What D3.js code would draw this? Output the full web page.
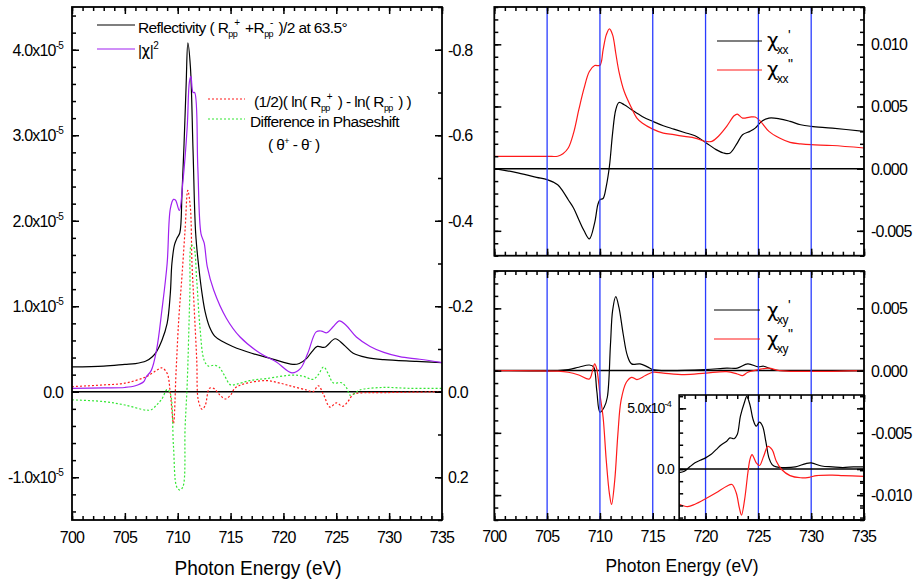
<!DOCTYPE html>
<html>
<head>
<meta charset="utf-8">
<script src="https://cdn.jsdelivr.net/npm/d3@7"></script>
<style>
  body { margin: 0; background: #fff; }
  svg { display: block; font-family: "Liberation Sans", Arial, sans-serif; }
  .greek { font-family: "DejaVu Sans", sans-serif; }
</style>
</head>
<body>
<svg id="chart" width="913" height="581"></svg>
<script>
// ---------- shared energy axis ----------
const energyDomain = [700, 735];
const energyTicks = [700, 705, 710, 715, 720, 725, 730, 735];
const gridEnergies = [705, 710, 715, 720, 725, 730];

// ---------- left panel: reflectivity and |chi|^2 (units of 1e-5) ----------
const leftDomain = [-1.5, 4.5];
const leftTicks = [-1, 0, 1, 2, 3, 4];
const leftTickLabels = ["-1.0x10", "0.0", "1.0x10", "2.0x10", "3.0x10", "4.0x10"];
const leftTickExp = ["-5", "", "-5", "-5", "-5", "-5"];

// secondary (reversed) axis of the left panel: asymmetry / phase difference
const phaseDomain = [-0.9, 0.3];
const phaseTicks = [-0.8, -0.6, -0.4, -0.2, 0.0, 0.2];
const phaseTickLabels = ["-0.8", "-0.6", "-0.4", "-0.2", "0.0", "0.2"];

const reflectivity = [
  [700, 0.29], [703, 0.30], [705, 0.32], [706, 0.33], [707, 0.36], [707.6, 0.41],
  [708, 0.47], [708.5, 0.60], [709, 0.80], [709.3, 1.15], [709.45, 1.50], [709.7, 1.72],
  [709.95, 1.80], [710.2, 1.86], [710.4, 2.3], [710.6, 2.9], [710.8, 3.6], [710.96, 4.08],
  [711.2, 3.8], [711.45, 2.82], [711.7, 1.85], [712.0, 1.45], [712.3, 1.15], [712.6, 0.93],
  [713.0, 0.76], [713.5, 0.65], [714.2, 0.59], [715.2, 0.53], [717, 0.45], [718.9, 0.385],
  [720.9, 0.32], [721.5, 0.33], [722.2, 0.39], [722.7, 0.47], [723.2, 0.53], [723.9, 0.52],
  [724.9, 0.62], [725.7, 0.55], [726.6, 0.45], [727.9, 0.40], [729.5, 0.375], [732.6, 0.355],
  [735, 0.34]
];

const chiSquared = [
  [700, 0.04], [703, 0.045], [705, 0.05], [706, 0.07], [706.8, 0.12], [707, 0.17],
  [707.5, 0.25], [708, 0.49], [708.5, 0.95], [709, 1.5], [709.3, 2.14], [709.6, 2.25],
  [709.8, 2.24], [710.15, 2.12], [710.5, 2.47], [710.9, 3.1], [711.1, 3.62], [711.25, 3.69],
  [711.45, 3.5], [711.6, 3.5], [711.9, 2.63], [712.2, 1.85], [712.5, 1.74], [712.8, 1.46],
  [713.4, 1.19], [714.6, 0.86], [715.9, 0.64], [717.8, 0.45], [719.3, 0.35], [720.8, 0.22],
  [721.6, 0.27], [722.3, 0.45], [723.1, 0.70], [723.6, 0.71], [724.1, 0.69], [724.7, 0.76],
  [725.3, 0.83], [725.9, 0.78], [726.9, 0.64], [728.2, 0.53], [729.5, 0.46], [731, 0.41],
  [732.9, 0.38], [735, 0.34]
];

const logAsymmetry = [
  [700, -0.012], [703, -0.016], [705, -0.02], [707, -0.035], [708, -0.05], [708.5, -0.056],
  [709, -0.043], [709.3, 0.004], [709.6, 0.074], [709.85, -0.05], [710.1, -0.17], [710.4, -0.27],
  [710.7, -0.38], [710.95, -0.471], [711.2, -0.43], [711.35, -0.3], [711.55, -0.2], [711.8, -0.074],
  [711.95, 0.02], [712.3, 0.041], [712.6, 0.032], [713, -0.008], [713.4, -0.008], [714, 0.008],
  [714.5, 0.017], [715, 0.008], [715.4, -0.008], [716.2, -0.018], [718.4, -0.026], [719.7, -0.02],
  [720.9, -0.012], [722.2, -0.004], [722.8, 0], [723.3, -0.014], [723.8, 0.007], [724.4, 0.036],
  [725, 0.026], [725.6, 0.034], [726.1, 0.023], [726.6, 0.006], [727.2, 0.003], [729.5, 0.002],
  [735, 0]
];

const phaseDifference = [
  [700, 0.019], [703, 0.023], [705, 0.031], [707, 0.043], [707.5, 0.042], [708, 0.031],
  [708.5, 0.017], [709, -0.005], [709.3, 0.004], [709.6, 0.128], [709.9, 0.222], [710.2, 0.23],
  [710.5, 0.222], [710.7, 0.082], [710.9, -0.02], [711.15, -0.23], [711.3, -0.343], [711.5, -0.34],
  [711.8, -0.26], [712.1, -0.152], [712.5, -0.074], [712.9, -0.06], [713.4, -0.062], [713.9, -0.058],
  [714.4, -0.039], [715, -0.016], [715.6, -0.018], [716.8, -0.026], [718.4, -0.031], [720.9, -0.039],
  [721.9, -0.036], [722.8, -0.029], [723.3, -0.04], [723.8, -0.058], [724.3, -0.039], [724.7, -0.021],
  [725.5, -0.021], [726, -0.008], [726.3, 0.008], [726.8, 0.003], [727.2, -0.004], [729.4, -0.01],
  [732, -0.008], [735, -0.008]
];

// ---------- right top panel: chi_xx ----------
const xxDomain = [-0.007, 0.013];
const xxTicks = [-0.005, 0, 0.005, 0.010];
const xxTickLabels = ["-0.005", "0.000", "0.005", "0.010"];

const chiXXre = [
  [700, 0], [702, -0.0003], [704, -0.0007], [705, -0.00088], [706, -0.0013], [706.5, -0.00182],
  [707, -0.0025], [707.5, -0.00316], [708, -0.0041], [708.5, -0.0050], [709, -0.00565], [709.5, -0.00436],
  [709.8, -0.0029], [710, -0.0025], [710.3, -0.0024], [710.6, -0.00142], [710.9, 0.00019], [711.2, 0.00286],
  [711.5, 0.00474], [711.8, 0.00532], [712.3, 0.00514], [713, 0.00474], [714, 0.0042], [715, 0.0038],
  [716, 0.00345], [717, 0.00318], [718, 0.00291], [719, 0.00265], [720, 0.00211], [721, 0.00153],
  [721.7, 0.00126], [722.3, 0.00124], [723, 0.00206], [723.5, 0.00273], [724.2, 0.0030], [724.7, 0.00326],
  [725.3, 0.0038], [726, 0.00407], [727, 0.00401], [728, 0.0038], [729, 0.00353], [730, 0.0034],
  [732, 0.00326], [735, 0.0030]
];

const chiXXim = [
  [700, 0.00099], [705, 0.00099], [706, 0.0010], [706.5, 0.0012], [707, 0.00166], [707.5, 0.00286],
  [708, 0.00474], [708.5, 0.00648], [709, 0.00781], [709.5, 0.00829], [710, 0.00831], [710.3, 0.00955],
  [710.6, 0.01076], [710.9, 0.01124], [711.2, 0.01076], [711.5, 0.00928], [711.8, 0.00781], [712.3, 0.0062],
  [713, 0.00487], [713.5, 0.00407], [714, 0.00367], [715, 0.00318], [716, 0.00286], [717, 0.00273],
  [718, 0.00259], [719, 0.00246], [720, 0.00219], [720.6, 0.00219], [721.2, 0.00259], [722, 0.0034],
  [722.7, 0.00425], [723, 0.00439], [723.5, 0.00407], [724.2, 0.00415], [724.7, 0.00415], [725.2, 0.0038],
  [726, 0.0030], [727, 0.00246], [728, 0.00211], [729, 0.0020], [730, 0.00193], [732, 0.00186],
  [735, 0.00166]
];

// ---------- right bottom panel: chi_xy ----------
const xyDomain = [-0.012, 0.008];
const xyTicks = [-0.010, -0.005, 0, 0.005];
const xyTickLabels = ["-0.010", "-0.005", "0.000", "0.005"];

const chiXYre = [
  [700, 0], [706, 0], [707, 0.00008], [708, 0.00027], [709, 0.00045], [709.4, 0.0003],
  [709.7, -0.0016], [710, -0.00334], [710.4, -0.00294], [710.7, -0.00214], [711, 0.00214], [711.2, 0.00482],
  [711.5, 0.00594], [711.8, 0.00508], [712.2, 0.00294], [712.6, 0.0012], [713, 0.00054], [713.8, 0.00054],
  [714.5, 0.0003], [715, 0.00008], [716, 0], [720, 0.00008], [722, 0.0002], [723, 0.0002],
  [724, 0.00054], [725, 0.0003], [725.5, 0.00035], [726.5, 0.00005], [728, 0], [735, 0]
];

const chiXYim = [
  [700, 0], [706, -0.00005], [707, -0.00013], [708, -0.00035], [709, -0.00067], [709.3, 0],
  [709.5, 0.00054], [709.7, 0.00013], [710, -0.0019], [710.3, -0.00375], [710.6, -0.00722], [710.9, -0.0099],
  [711.1, -0.01075], [711.4, -0.00883], [711.7, -0.0051], [712, -0.0024], [712.5, -0.00094], [713, -0.00054],
  [713.5, -0.00072], [714.3, -0.0004], [715, -0.00013], [716, -0.0002], [718, -0.00032], [720, -0.0002],
  [722, -0.00008], [723, -0.00027], [723.5, -0.0004], [724, -0.00013], [725, 0.00008], [726, 0.0002],
  [727, 0], [735, 0]
];

// ---------- inset: L2 edge of chi_xy ----------
const insetEnergyDomain = [717.5, 735];
const insetDomain = [-4.2e-4, 6.1e-4];
const insetTicks = [0, 5e-4];
const insetTickLabels = ["0.0", "5.0x10"];
const insetTickExp = ["", "-4"];

const insetRe = [
  [717.5, -3e-5], [718, -1.8e-5], [718.5, 1.8e-5], [719, 5.1e-5], [719.5, 7.2e-5], [720, 9.2e-5],
  [720.5, 1.19e-4], [721, 1.6e-4], [721.5, 2.0e-4], [722, 2.29e-4], [722.3, 2.57e-4], [722.7, 2.5e-4],
  [723, 2.84e-4], [723.3, 4.35e-4], [723.7, 5.54e-4], [723.9, 5.99e-4], [724.2, 5.3e-4], [724.5, 4.08e-4],
  [724.8, 3.53e-4], [725.1, 3.86e-4], [725.4, 3.53e-4], [725.7, 2.29e-4], [726, 9.2e-5], [726.3, 3.7e-5],
  [726.7, 1.8e-5], [727.5, 1.2e-5], [728.5, 1.8e-5], [729.5, 4.5e-5], [730, 5e-5], [731, 2.5e-5],
  [732, 1.8e-5], [733, 1.2e-5], [734, 1.8e-5], [735, 1.8e-5]
];

const insetIm = [
  [717.5, -2.9e-4], [718.3, -3.1e-4], [719, -2.9e-4], [720, -2.45e-4], [721, -1.96e-4], [722, -1.42e-4],
  [722.5, -1.28e-4], [722.9, -1.96e-4], [723.2, -3.2e-4], [723.4, -3.8e-4], [723.7, -2.5e-4], [724, -3.5e-5],
  [724.2, 7.8e-5], [724.4, 1.19e-4], [724.8, 5.1e-5], [725.1, 2.9e-5], [725.5, 1.05e-4], [725.9, 1.87e-4],
  [726.3, 1.6e-4], [726.7, 6.4e-5], [727.2, -4e-6], [728, -5.4e-5], [729, -7.2e-5], [729.8, -6.8e-5],
  [730.5, -5.4e-5], [732, -5e-5], [733, -5.4e-5], [735, -6e-5]
];

// ---------- colours ----------
const C = {
  black: "#000000",
  purple: "#a020f0",
  red: "#ff1a1a",
  green: "#33e633",
  blue: "#2a3cff"
};

const svg = d3.select("#chart");

// ---------- layout ----------
const L = { x0: 72, x1: 442, y0: 7, y1: 520 };
const RT = { x0: 494.3, x1: 864, y0: 7, y1: 255.7 };
const RB = { x0: 494.3, x1: 864, y0: 271, y1: 520 };

// ---------- helpers ----------
function inwardTicks(g, axisFn, scale, values, len, tx, ty) {
  const a = axisFn(scale).tickValues(values).tickSize(-len).tickFormat("");
  const s = g.append("g").attr("transform", `translate(${tx},${ty})`).call(a);
  s.select(".domain").remove();
  s.selectAll("line").attr("stroke", "#000").attr("stroke-width", 1.5);
}

function seq(a, b, step) {
  const out = [];
  const n = Math.round((b - a) / step);
  for (let i = 0; i <= n; i++) out.push(+(a + i * step).toFixed(6));
  return out;
}

function frame(g, p) {
  g.append("rect")
    .attr("x", p.x0).attr("y", p.y0)
    .attr("width", p.x1 - p.x0).attr("height", p.y1 - p.y0)
    .attr("fill", "none").attr("stroke", "#000").attr("stroke-width", 1.8);
}

function clipFor(id, p) {
  svg.append("clipPath").attr("id", id).append("rect")
    .attr("x", p.x0).attr("y", p.y0).attr("width", p.x1 - p.x0).attr("height", p.y1 - p.y0);
  return `url(#${id})`;
}

// text made of segments with baseline shifts: [text, size, shift, dx, cls]
function richText(g, x, y, segs, opts = {}) {
  const t = g.append("text").attr("x", x).attr("y", y)
    .attr("fill", "#000")
    .attr("letter-spacing", opts.ls ?? -0.5)
    .attr("text-anchor", opts.anchor || "start");
  let prev = 0;
  segs.forEach(([s, size, shift, dx, cls]) => {
    const ts = t.append("tspan").text(s).attr("font-size", size).attr("dy", shift - prev);
    if (dx) ts.attr("dx", dx);
    if (cls) ts.attr("class", cls);
    prev = shift;
  });
  return t;
}

function drawLine(g, data, x, y, color, opts = {}) {
  const line = d3.line().x(d => x(d[0])).y(d => y(d[1])).curve(d3.curveCatmullRom.alpha(0.5));
  g.append("path").datum(data)
    .attr("d", line)
    .attr("fill", "none")
    .attr("stroke", color)
    .attr("stroke-width", opts.width || 1.2)
    .attr("stroke-dasharray", opts.dash || null)
    .attr("stroke-linejoin", "round");
}

// ================= LEFT PANEL =================
const xL = d3.scaleLinear().domain(energyDomain).range([L.x0, L.x1]);
const yL = d3.scaleLinear().domain(leftDomain).range([L.y1, L.y0]);
const yP = d3.scaleLinear().domain(phaseDomain).range([L.y0, L.y1]);

const gL = svg.append("g");
const plotL = gL.append("g").attr("clip-path", clipFor("clipL", L));

// zero line
plotL.append("line")
  .attr("x1", L.x0).attr("x2", L.x1)
  .attr("y1", yL(0)).attr("y2", yL(0))
  .attr("stroke", "#000").attr("stroke-width", 1.5);

drawLine(plotL, logAsymmetry, xL, yP, C.red, { dash: "2,2", width: 1.2 });
drawLine(plotL, phaseDifference, xL, yP, C.green, { dash: "2,2", width: 1.2 });
drawLine(plotL, reflectivity, xL, yL, C.black, { width: 1.2 });
drawLine(plotL, chiSquared, xL, yL, C.purple, { width: 1.2 });

// ticks (all inward)
inwardTicks(gL, d3.axisBottom, xL, seq(700, 735, 1), 4, 0, L.y1);
inwardTicks(gL, d3.axisBottom, xL, energyTicks, 7, 0, L.y1);
inwardTicks(gL, d3.axisTop, xL, seq(700, 735, 1), 4, 0, L.y0);
inwardTicks(gL, d3.axisTop, xL, energyTicks, 7, 0, L.y0);
inwardTicks(gL, d3.axisLeft, yL, seq(-1.4, 4.4, 0.2), 4, L.x0, 0);
inwardTicks(gL, d3.axisLeft, yL, leftTicks, 7, L.x0, 0);
inwardTicks(gL, d3.axisRight, yP, seq(-0.9, 0.3, 0.1), 4, L.x1, 0);
inwardTicks(gL, d3.axisRight, yP, phaseTicks, 7, L.x1, 0);
frame(gL, L);

// tick labels
energyTicks.forEach(v => {
  gL.append("text").attr("x", xL(v)).attr("y", 543)
    .attr("text-anchor", "middle").attr("font-size", 16).attr("letter-spacing", -0.8)
    .text(v);
});
leftTicks.forEach((v, i) => {
  const segs = [[leftTickLabels[i], 16, 0]];
  if (leftTickExp[i]) segs.push([leftTickExp[i], 10, -7]);
  richText(gL, 63, yL(v) + 6, segs, { anchor: "end", ls: -0.8 });
});
phaseTicks.forEach((v, i) => {
  gL.append("text").attr("x", 448).attr("y", yP(v) + 6)
    .attr("font-size", 16).attr("letter-spacing", -0.8)
    .text(phaseTickLabels[i]);
});
gL.append("text").attr("x", 258).attr("y", 575)
  .attr("text-anchor", "middle").attr("font-size", 20)
  .attr("textLength", 167).attr("lengthAdjust", "spacingAndGlyphs")
  .text("Photon Energy (eV)");

// legend
const legL = gL.append("g");
legL.append("line").attr("x1", 97).attr("x2", 135).attr("y1", 25).attr("y2", 25)
  .attr("stroke", C.black).attr("stroke-width", 1.2);
legL.append("line").attr("x1", 97).attr("x2", 135).attr("y1", 49).attr("y2", 49)
  .attr("stroke", C.purple).attr("stroke-width", 1.2);
legL.append("line").attr("x1", 208).attr("x2", 245).attr("y1", 99).attr("y2", 99)
  .attr("stroke", C.red).attr("stroke-width", 1.2).attr("stroke-dasharray", "2,2");
legL.append("line").attr("x1", 208).attr("x2", 245).attr("y1", 119).attr("y2", 119)
  .attr("stroke", C.green).attr("stroke-width", 1.2).attr("stroke-dasharray", "2,2");

richText(legL, 138, 33, [
  ["Reflectivity ( R", 15.5, 0], ["pp", 9, 4], ["+", 10, -7, -3],
  [" +R", 15.5, 0, 2], ["pp", 9, 4], ["-", 10, -7, -3],
  [" )/2 at 63.5°", 15.5, 0, 2]
], { ls: -0.6 });
richText(legL, 138, 56, [["|", 15.5, 0], ["χ", 15, 0, 0, "greek"], ["|", 15.5, 0], ["2", 10, -7]]);
richText(legL, 254, 107, [
  ["(1/2)( ln( R", 15.5, 0], ["pp", 9, 4], ["+", 10, -7, -3],
  [" ) - ln( R", 15.5, 0, 2], ["pp", 9, 4], ["-", 10, -7, -3],
  [" ) )", 15.5, 0, 2]
], { ls: -0.6 });
richText(legL, 250, 127, [["Difference in Phaseshift", 15.5, 0]], { ls: -0.6 });
richText(legL, 268, 150, [
  ["( θ", 15.5, 0], ["+", 9, -6], [" - θ", 15.5, 0], ["-", 9, -6], [" )", 15.5, 0]
], { ls: -0.6 });

// ================= RIGHT PANELS =================
const xR = d3.scaleLinear().domain(energyDomain).range([RT.x0, RT.x1]);

function rightPanel(p, yDomain, yTicks, yLabels, id) {
  const y = d3.scaleLinear().domain(yDomain).range([p.y1, p.y0]);
  const g = svg.append("g");
  const plot = g.append("g").attr("clip-path", clipFor(id, p));
  plot.append("line")
    .attr("x1", p.x0).attr("x2", p.x1).attr("y1", y(0)).attr("y2", y(0))
    .attr("stroke", "#000").attr("stroke-width", 1.5);
  const minor = seq(Math.ceil(yDomain[0] * 1000) / 1000, Math.floor(yDomain[1] * 1000) / 1000, 0.001);
  inwardTicks(g, d3.axisBottom, xR, seq(700, 735, 1), 4, 0, p.y1);
  inwardTicks(g, d3.axisBottom, xR, energyTicks, 7, 0, p.y1);
  inwardTicks(g, d3.axisTop, xR, seq(700, 735, 1), 4, 0, p.y0);
  inwardTicks(g, d3.axisTop, xR, energyTicks, 7, 0, p.y0);
  inwardTicks(g, d3.axisLeft, y, minor, 4, p.x0, 0);
  inwardTicks(g, d3.axisLeft, y, yTicks, 7, p.x0, 0);
  inwardTicks(g, d3.axisRight, y, minor, 4, p.x1, 0);
  inwardTicks(g, d3.axisRight, y, yTicks, 7, p.x1, 0);
  yTicks.forEach((v, i) => {
    g.append("text").attr("x", 871).attr("y", y(v) + 6)
      .attr("font-size", 16).attr("letter-spacing", -0.8)
      .text(yLabels[i]);
  });
  return { g, plot, y };
}

// ---- top: chi_xx ----
const panelXX = rightPanel(RT, xxDomain, xxTicks, xxTickLabels, "clipRT");
drawLine(panelXX.plot, chiXXre, xR, panelXX.y, C.black);
drawLine(panelXX.plot, chiXXim, xR, panelXX.y, C.red);
gridEnergies.forEach(e => {
  panelXX.plot.append("line").attr("x1", xR(e)).attr("x2", xR(e))
    .attr("y1", RT.y0).attr("y2", RT.y1)
    .attr("stroke", C.blue).attr("stroke-width", 1.3);
});
frame(panelXX.g, RT);

// legend chi_xx
panelXX.g.append("line").attr("x1", 717).attr("x2", 762).attr("y1", 41).attr("y2", 41)
  .attr("stroke", C.black).attr("stroke-width", 1.2);
panelXX.g.append("line").attr("x1", 717).attr("x2", 762).attr("y1", 70).attr("y2", 70)
  .attr("stroke", C.red).attr("stroke-width", 1.2);
richText(panelXX.g, 767, 47, [["χ", 20, 0, 0, "greek"], ["xx", 12, 7, -1], ["'", 14, -7, 0]], { ls: -0.5 });
richText(panelXX.g, 767, 76, [["χ", 20, 0, 0, "greek"], ["xx", 12, 7, -1], ["\"", 14, -7, 0]], { ls: -0.5 });

// ---- bottom: chi_xy ----
const panelXY = rightPanel(RB, xyDomain, xyTicks, xyTickLabels, "clipRB");
drawLine(panelXY.plot, chiXYre, xR, panelXY.y, C.black);
drawLine(panelXY.plot, chiXYim, xR, panelXY.y, C.red);

// inset
const I = { x0: xR(insetEnergyDomain[0]), x1: RB.x1, y0: 395, y1: RB.y1 };
const xI = d3.scaleLinear().domain(insetEnergyDomain).range([I.x0, I.x1]);
const yI = d3.scaleLinear().domain(insetDomain).range([I.y1, I.y0]);
panelXY.plot.append("rect").attr("x", I.x0).attr("y", I.y0)
  .attr("width", I.x1 - I.x0).attr("height", I.y1 - I.y0).attr("fill", "#fff");
const insetPlot = panelXY.g.append("g").attr("clip-path", clipFor("clipI", I));
insetPlot.append("line").attr("x1", I.x0).attr("x2", I.x1).attr("y1", yI(0)).attr("y2", yI(0))
  .attr("stroke", "#000").attr("stroke-width", 1.5);
drawLine(insetPlot, insetRe, xI, yI, C.black);
drawLine(insetPlot, insetIm, xI, yI, C.red);
inwardTicks(panelXY.g, d3.axisTop, xI, seq(718, 735, 1), 4, 0, I.y0);
inwardTicks(panelXY.g, d3.axisTop, xI, [720, 725, 730, 735], 7, 0, I.y0);
inwardTicks(panelXY.g, d3.axisLeft, yI, seq(-4e-4, 6e-4, 1e-4), 4, I.x0, 0);
inwardTicks(panelXY.g, d3.axisLeft, yI, insetTicks, 7, I.x0, 0);
inwardTicks(panelXY.g, d3.axisRight, yI, seq(-4e-4, 6e-4, 1e-4), 4, I.x1, 0);
inwardTicks(panelXY.g, d3.axisRight, yI, insetTicks, 7, I.x1, 0);
panelXY.g.append("rect").attr("x", I.x0).attr("y", I.y0)
  .attr("width", I.x1 - I.x0).attr("height", I.y1 - I.y0)
  .attr("fill", "none").attr("stroke", "#000").attr("stroke-width", 1.6);
insetTicks.forEach((v, i) => {
  const segs = [[insetTickLabels[i], 14, 0]];
  if (insetTickExp[i]) segs.push([insetTickExp[i], 9, -6]);
  richText(panelXY.g, insetTickExp[i] ? 671 : 674, yI(v) + 5, segs, { anchor: "end", ls: -0.8 });
});

gridEnergies.forEach(e => {
  panelXY.plot.append("line").attr("x1", xR(e)).attr("x2", xR(e))
    .attr("y1", RB.y0).attr("y2", RB.y1)
    .attr("stroke", C.blue).attr("stroke-width", 1.3);
});
frame(panelXY.g, RB);

// legend chi_xy
panelXY.g.append("line").attr("x1", 714).attr("x2", 760).attr("y1", 310).attr("y2", 310)
  .attr("stroke", C.black).attr("stroke-width", 1.2);
panelXY.g.append("line").attr("x1", 714).attr("x2", 760).attr("y1", 339).attr("y2", 339)
  .attr("stroke", C.red).attr("stroke-width", 1.2);
richText(panelXY.g, 767, 317, [["χ", 20, 0, 0, "greek"], ["xy", 12, 7, -1], ["'", 14, -7, 0]], { ls: -0.5 });
richText(panelXY.g, 767, 346, [["χ", 20, 0, 0, "greek"], ["xy", 12, 7, -1], ["\"", 14, -7, 0]], { ls: -0.5 });

// x labels and title for the right column
energyTicks.forEach(v => {
  svg.append("text").attr("x", xR(v)).attr("y", 542)
    .attr("text-anchor", "middle").attr("font-size", 16).attr("letter-spacing", -0.8)
    .text(v);
});
svg.append("text").attr("x", 682).attr("y", 572)
  .attr("text-anchor", "middle").attr("font-size", 19)
  .attr("textLength", 153).attr("lengthAdjust", "spacingAndGlyphs")
  .text("Photon Energy (eV)");
</script>
</body>
</html>
